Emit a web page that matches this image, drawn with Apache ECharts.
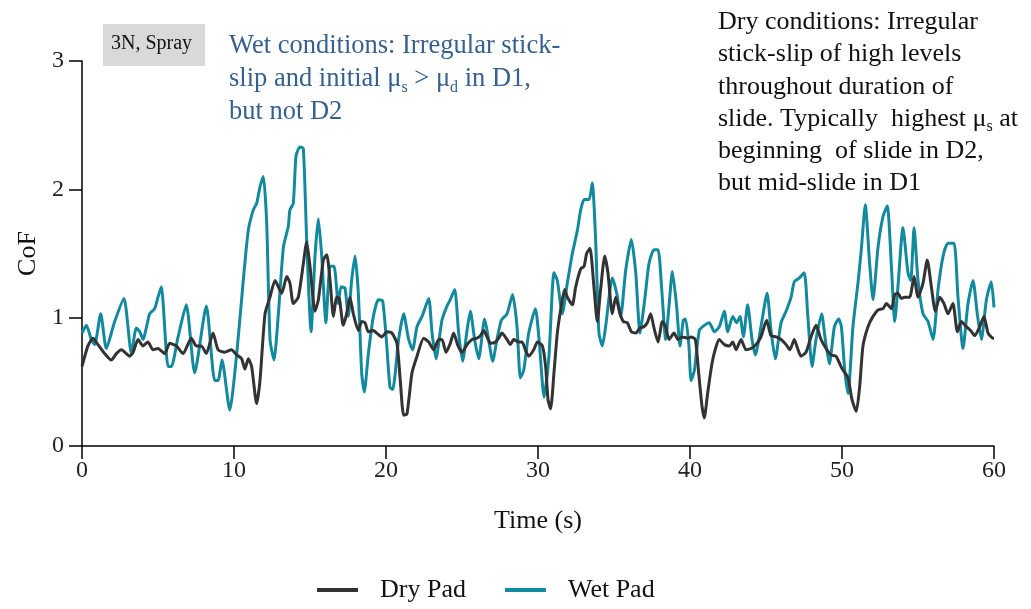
<!DOCTYPE html>
<html>
<head>
<meta charset="utf-8">
<script src="https://cdn.jsdelivr.net/npm/echarts@6/dist/echarts.min.js"></script>
<style>html,body{margin:0;padding:0;background:#fff}#c{width:1031px;height:609px}</style>
</head>
<body>
<div id="c"></div>
<script>
// [time (s), CoF]
const dryPad = [[0.0,0.62],[0.39,0.78],[0.72,0.84],[1.05,0.79],[1.49,0.72],[1.93,0.67],[2.26,0.72],[2.59,0.75],[2.92,0.72],[3.14,0.70],[3.36,0.73],[3.69,0.83],[4.01,0.78],[4.34,0.81],[4.67,0.75],[5.0,0.76],[5.44,0.72],[5.77,0.80],[6.21,0.78],[6.65,0.72],[7.19,0.84],[7.52,0.78],[7.85,0.78],[8.18,0.72],[8.62,0.88],[8.95,0.75],[9.39,0.73],[9.83,0.75],[10.18,0.71],[10.5,0.68],[10.72,0.60],[10.94,0.68],[11.16,0.62],[11.49,0.33],[11.71,0.51],[12.04,1.03],[12.37,1.16],[12.7,1.29],[13.14,1.19],[13.47,1.32],[13.68,1.27],[13.9,1.11],[14.23,1.16],[14.56,1.42],[14.78,1.59],[15.0,1.40],[15.33,1.05],[15.55,1.14],[15.88,1.45],[16.1,1.49],[16.32,1.29],[16.54,1.01],[16.76,1.16],[16.93,1.15],[17.19,0.94],[17.41,1.03],[17.63,1.16],[17.85,1.03],[18.18,0.90],[18.4,0.97],[18.62,0.96],[18.84,0.89],[19.17,0.90],[19.39,0.88],[19.72,0.85],[20.07,0.89],[20.39,0.88],[20.72,0.80],[20.94,0.51],[21.16,0.24],[21.38,0.25],[21.71,0.57],[22.04,0.70],[22.48,0.84],[22.81,0.81],[23.14,0.75],[23.47,0.83],[23.68,0.83],[23.95,0.73],[24.23,0.80],[24.45,0.88],[24.74,0.78],[25.0,0.73],[25.33,0.79],[25.66,0.83],[25.99,0.84],[26.21,0.86],[26.43,0.90],[26.65,0.85],[26.87,0.80],[27.2,0.81],[27.41,0.84],[27.63,0.88],[27.96,0.83],[28.18,0.79],[28.4,0.83],[28.73,0.81],[28.95,0.81],[29.17,0.75],[29.39,0.70],[29.72,0.75],[29.96,0.81],[30.29,0.78],[30.5,0.62],[30.66,0.36],[30.83,0.29],[31.05,0.57],[31.27,0.88],[31.49,1.06],[31.75,1.22],[31.93,1.16],[32.26,1.10],[32.48,1.24],[32.81,1.38],[33.03,1.40],[33.2,1.50],[33.42,1.54],[33.68,1.24],[33.9,0.97],[34.12,1.22],[34.39,1.48],[34.6,1.35],[34.89,1.03],[35.11,1.16],[35.4,1.03],[35.61,0.97],[35.88,0.96],[36.14,0.89],[36.43,0.88],[36.71,0.92],[36.97,0.93],[37.19,0.96],[37.41,1.03],[37.63,0.92],[37.9,0.81],[38.18,0.97],[38.4,0.93],[38.62,0.83],[38.95,0.88],[39.21,0.83],[39.5,0.85],[39.83,0.84],[40.07,0.85],[40.35,0.83],[40.57,0.57],[40.79,0.31],[40.94,0.22],[41.16,0.41],[41.49,0.67],[41.93,0.83],[42.26,0.79],[42.59,0.78],[42.81,0.81],[43.03,0.75],[43.36,0.83],[43.68,0.75],[44.01,0.76],[44.34,0.79],[44.67,0.85],[45.04,0.98],[45.33,0.86],[45.66,0.85],[45.99,0.83],[46.32,0.79],[46.58,0.75],[46.86,0.83],[47.08,0.76],[47.3,0.70],[47.63,0.73],[47.96,0.85],[48.29,0.94],[48.62,0.83],[48.95,0.76],[49.28,0.71],[49.61,0.70],[49.93,0.62],[50.07,0.59],[50.4,0.53],[50.66,0.36],[50.94,0.27],[51.16,0.46],[51.38,0.78],[51.71,0.93],[52.04,1.01],[52.37,1.06],[52.7,1.07],[52.92,1.11],[53.25,1.07],[53.47,1.18],[53.68,1.19],[53.9,1.15],[54.12,1.16],[54.45,1.16],[54.74,1.32],[55.0,1.16],[55.33,1.27],[55.61,1.45],[55.88,1.24],[56.14,1.05],[56.43,1.16],[56.71,1.11],[56.97,1.03],[57.3,1.11],[57.59,0.89],[57.85,0.97],[58.18,0.93],[58.46,0.90],[58.73,0.86],[59.06,0.93],[59.34,1.01],[59.61,0.88],[59.93,0.84],[60.0,0.84]];

const wetPad = [[0.0,0.88],[0.29,0.94],[0.61,0.83],[0.83,0.79],[1.23,1.03],[1.6,0.76],[2.15,0.97],[2.76,1.15],[3.25,0.72],[3.57,0.92],[3.8,0.89],[4.01,0.83],[4.45,1.03],[4.78,1.07],[5.0,1.16],[5.22,1.24],[5.66,0.62],[5.88,0.62],[6.32,0.85],[6.86,1.10],[7.41,0.57],[8.18,1.09],[8.73,0.51],[8.95,0.51],[9.21,0.67],[9.72,0.28],[10.18,0.72],[10.61,1.29],[10.94,1.68],[11.27,1.84],[11.49,1.89],[11.71,2.02],[11.93,2.10],[12.15,1.74],[12.37,0.83],[12.63,0.67],[12.92,1.03],[13.25,1.55],[13.57,1.71],[13.68,1.84],[13.9,1.89],[14.08,2.26],[14.34,2.33],[14.56,2.32],[14.78,1.61],[15.07,0.89],[15.33,1.48],[15.55,1.77],[15.77,1.48],[16.05,0.96],[16.32,1.40],[16.58,1.40],[16.86,1.11],[17.04,1.24],[17.3,1.23],[17.52,1.01],[17.74,1.29],[17.96,1.48],[18.18,1.19],[18.4,0.57],[18.57,0.42],[18.84,0.72],[19.17,1.01],[19.5,1.14],[19.78,1.13],[20.04,0.80],[20.26,0.46],[20.44,0.44],[20.83,0.83],[21.16,1.03],[21.49,0.83],[21.75,0.75],[22.04,0.93],[22.37,1.01],[22.81,1.15],[23.03,0.88],[23.29,0.68],[23.68,0.98],[24.01,1.09],[24.23,1.14],[24.52,1.22],[24.78,0.88],[25.04,0.66],[25.33,0.90],[25.55,1.05],[25.83,0.83],[26.1,0.68],[26.49,0.99],[26.75,0.83],[27.02,0.66],[27.3,0.83],[27.59,0.98],[27.96,1.03],[28.33,1.18],[28.62,0.93],[28.84,0.53],[29.06,0.59],[29.39,0.88],[29.83,1.07],[30.07,0.83],[30.4,0.38],[30.72,0.70],[31.05,1.35],[31.27,1.29],[31.6,1.03],[31.93,1.27],[32.26,1.50],[32.59,1.68],[32.81,1.84],[33.03,1.92],[33.36,1.92],[33.57,2.05],[33.79,1.61],[34.01,0.88],[34.23,0.78],[34.45,0.93],[34.89,1.31],[35.18,1.19],[35.44,1.01],[35.77,1.37],[36.14,1.61],[36.43,1.35],[36.71,0.88],[37.02,1.14],[37.3,1.42],[37.63,1.53],[37.9,1.53],[38.14,1.22],[38.4,0.83],[38.62,1.09],[38.84,1.36],[39.12,1.09],[39.34,0.78],[39.56,0.98],[39.71,0.99],[39.93,0.78],[40.07,0.51],[40.29,0.59],[40.61,0.90],[40.94,0.94],[41.27,0.96],[41.6,0.89],[41.93,0.93],[42.26,1.05],[42.48,0.89],[42.81,1.01],[43.07,0.96],[43.29,1.01],[43.51,0.85],[43.79,1.10],[44.08,0.83],[44.3,0.71],[44.67,0.93],[45.07,1.19],[45.33,0.90],[45.61,0.68],[45.99,0.96],[46.32,1.05],[46.65,1.16],[46.86,1.28],[47.2,1.31],[47.52,1.35],[47.74,1.03],[48.03,0.62],[48.29,0.83],[48.66,1.03],[48.9,0.83],[49.17,0.64],[49.5,0.93],[49.78,0.99],[49.96,0.93],[50.18,0.59],[50.4,0.41],[50.72,0.93],[51.05,1.27],[51.27,1.53],[51.53,1.88],[51.82,1.42],[52.04,1.14],[52.37,1.55],[52.7,1.79],[52.98,1.87],[53.25,1.40],[53.47,0.97],[53.68,1.24],[54.01,1.70],[54.34,1.35],[54.52,1.29],[54.74,1.70],[55.0,1.29],[55.33,1.03],[55.66,0.97],[55.99,0.83],[56.32,1.22],[56.65,1.48],[56.97,1.58],[57.37,1.58],[57.63,1.16],[57.96,0.76],[58.29,1.11],[58.62,1.29],[58.9,1.03],[59.17,0.83],[59.5,1.14],[59.82,1.28],[60.0,1.08]];

const seriesNames = ['Dry Pad', 'Wet Pad'];
const xTitle = 'Time (s)';
const yTitle = 'CoF';
const tagText = '3N, Spray';

const serif = "'Liberation Serif', 'Times New Roman', serif";
const chart = echarts.init(document.getElementById('c'), null, {renderer: 'canvas'});

chart.setOption({
  animation: false,
  backgroundColor: '#fff',
  grid: {left: 82, right: 37, top: 61, bottom: 163, containLabel: false},
  xAxis: {
    type: 'value', min: 0, max: 60, interval: 10,
    name: xTitle, nameLocation: 'middle', nameGap: 62,
    nameTextStyle: {fontFamily: serif, fontSize: 26, color: '#111'},
    axisLine: {show: true, onZero: false, lineStyle: {color: '#000', width: 1.5}},
    axisTick: {show: true, length: 13, lineStyle: {color: '#000', width: 1.5}},
    axisLabel: {fontFamily: serif, fontSize: 24, color: '#222', margin: 13},
    splitLine: {show: false}
  },
  yAxis: {
    type: 'value', min: 0, max: 3, interval: 1,
    name: yTitle, nameLocation: 'middle', nameGap: 39,
    nameTextStyle: {fontFamily: serif, fontSize: 26, color: '#111'},
    axisLine: {show: true, lineStyle: {color: '#000', width: 1.5}},
    axisTick: {show: true, length: 13, lineStyle: {color: '#000', width: 1.5}},
    axisLabel: {fontFamily: serif, fontSize: 24, color: '#222', margin: 18},
    splitLine: {show: false}
  },
  legend: {
    bottom: 1, left: 312,
    icon: 'rect', itemWidth: 41, itemHeight: 4, itemGap: 39,
    textStyle: {fontFamily: serif, fontSize: 26, color: '#111', padding: [0, 0, 0, 17]},
    data: seriesNames
  },
  series: [
    {name: seriesNames[1], type: 'line', data: wetPad, symbol: 'none', smooth: 0.2,
     lineStyle: {color: '#13899e', width: 3}, itemStyle: {color: '#13899e'}, z: 2},
    {name: seriesNames[0], type: 'line', data: dryPad, symbol: 'none', smooth: 0.2,
     lineStyle: {color: '#333333', width: 3}, itemStyle: {color: '#333333'}, z: 3}
  ],
  graphic: [
    {type: 'rect', left: 103, top: 24, shape: {width: 102, height: 42}, style: {fill: '#d9d9d9'}},
    {type: 'text', left: 111, top: 34, style: {text: tagText, font: "20px " + serif, fill: '#111'}},
    {type: 'text', left: 229, top: 30, style: {
      text: 'Wet conditions: Irregular stick-\nslip and initial μ{s|s} > μ{s|d} in D1,\nbut not D2',
      font: "26.5px " + serif, fill: '#36618f', lineHeight: 33,
      rich: {s: {fontSize: 16, fontFamily: serif, fill: '#36618f', verticalAlign: 'bottom', lineHeight: 24}}
    }},
    {type: 'text', left: 718, top: 6, style: {
      text: 'Dry conditions: Irregular\nstick-slip of high levels\nthroughout duration of\nslide. Typically  highest μ{s|s} at\nbeginning  of slide in D2,\nbut mid-slide in D1',
      font: "26px " + serif, fill: '#111', lineHeight: 32.3,
      rich: {s: {fontSize: 16, fontFamily: serif, fill: '#111', verticalAlign: 'bottom', lineHeight: 24}}
    }}
  ]
});
</script>
</body>
</html>
